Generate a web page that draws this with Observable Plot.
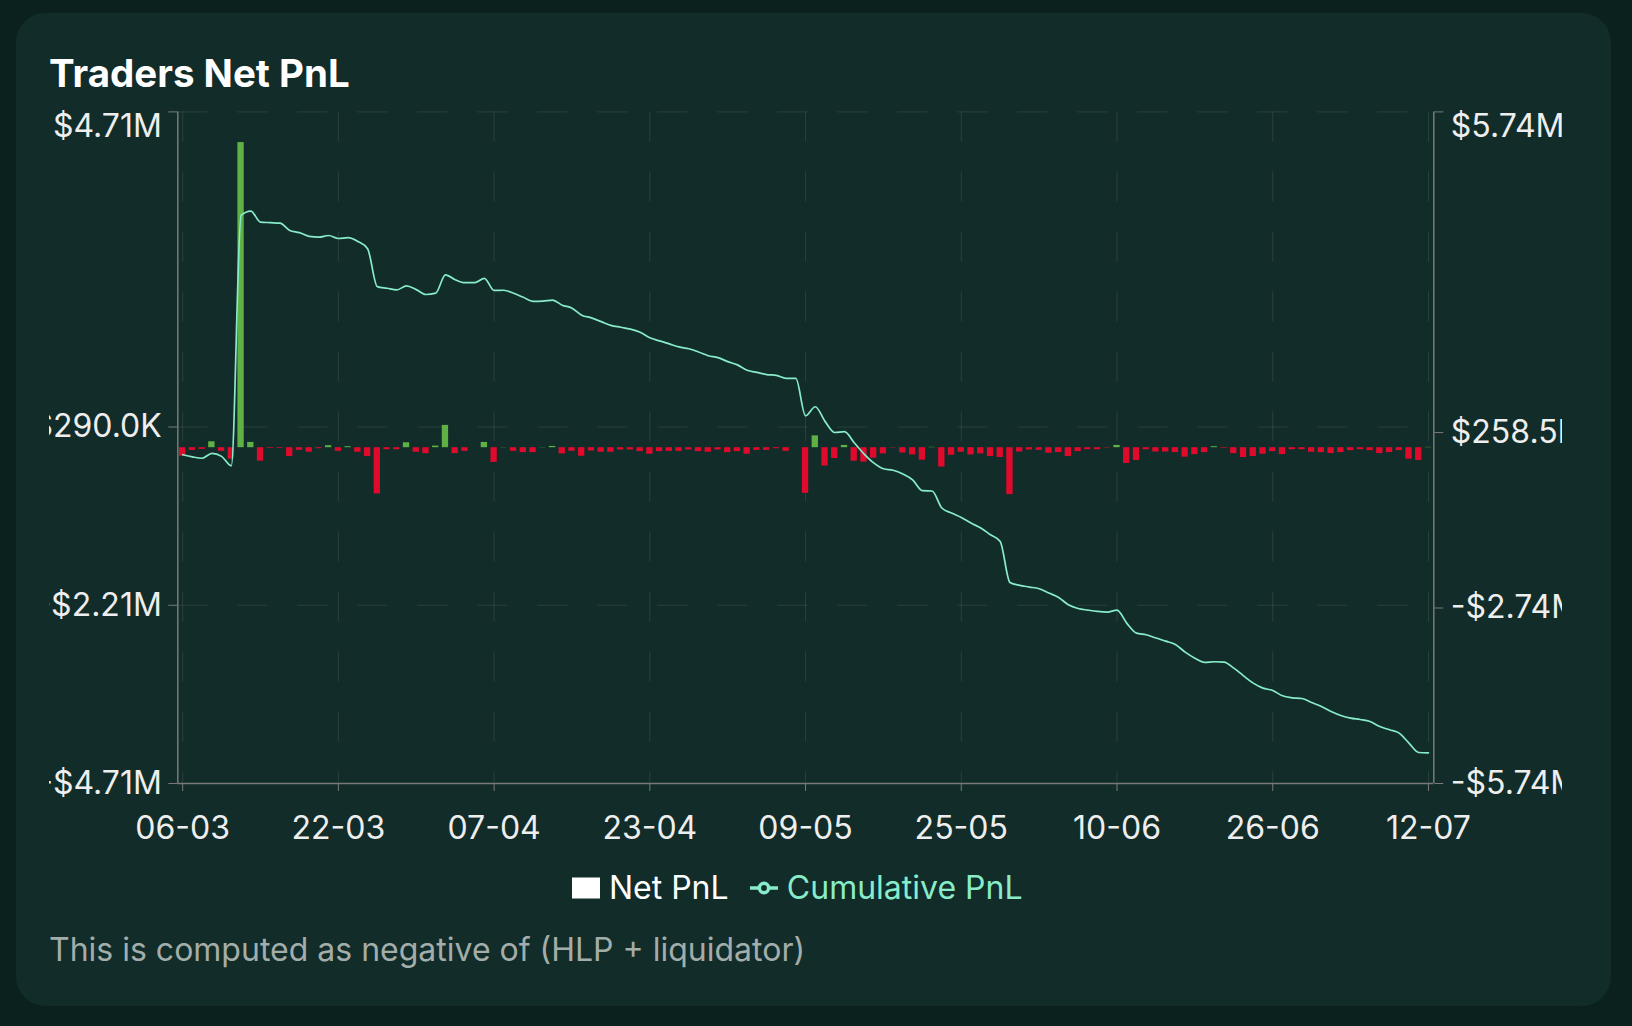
<!DOCTYPE html>
<html>
<head>
<meta charset="utf-8">
<script src="https://cdn.jsdelivr.net/npm/d3@7"></script>
<script src="https://cdn.jsdelivr.net/npm/@observablehq/plot@0.6"></script>
<style>
  html, body { margin: 0; padding: 0; width: 1632px; height: 1026px; overflow: hidden; background: #0a211e; font-family: Inter, "Noto Sans", sans-serif; }
  #card { position: absolute; left: 15.6px; top: 12.5px; width: 1595.5px; height: 993px; background: #112c29; border-radius: 29px; }
  #title { position: absolute; left: 49px; top: 54.2px; font-size: 38.5px; line-height: 1; font-weight: 700; color: #ffffff; white-space: nowrap; }
  #chart { position: absolute; left: 49px; top: 100px; width: 1513px; height: 760px; overflow: hidden; }
  #chart svg { display: block; max-width: none; }
  #chart svg g, #chart svg text { font-variant: normal !important; font-variant-numeric: normal !important; }
  #legend { position: absolute; left: 572.4px; top: 872px; height: 32px; display: flex; align-items: center; font-size: 32px; line-height: 1; white-space: nowrap; }
  #legend .item { display: flex; align-items: center; }
  #legend svg { display: block; }
  #caption { position: absolute; left: 49px; top: 934px; font-size: 32px; line-height: 1; color: #a3adaa; white-space: nowrap; }
</style>
</head>
<body>
<div id="card"></div>
<div id="title">Traders Net PnL</div>
<div id="chart"></div>
<div id="legend"></div>
<div id="caption">This is computed as negative of (HLP + liquidator)</div>
<script>
// ---------- data (values in thousands of USD, one per day from startDate) ----------
const startDate = "2024-03-06";
const netPnlK = [
  -120, -37, -23, 83, -51, -161, 4280, 74, -189, -9,
  -9, -124, -37, -64, -14, 28, -51, 14, -64, -124,
  -649, -28, -28, 69, -64, -83, 23, 313, -83, -51,
  0, 74, -207, 3, -51, -69, -69, 3, 18, -87,
  -51, -120, -46, -64, -64, -32, -32, -55, -92, -55,
  -51, -51, -32, -55, -64, -32, -69, -55, -92, -37,
  -37, -14, -51, 0, -640, 166, -258, -152, 32, -189,
  -202, -147, -87, -5, -74, -101, -175, 5, -271, -106,
  -64, -101, -87, -124, -138, -658, -60, -32, -37, -78,
  -69, -124, -55, -28, -28, -6, 32, -221, -179, -28,
  -60, -60, -69, -133, -97, -69, 14, -9, -83, -138,
  -124, -92, -55, -97, -28, -28, -64, -69, -83, -69,
  -41, -28, -41, -83, -69, -41, -161, -179, 5
];
const cumulativePnlK = [
  -120, -157, -180, -97, -148, -309, 3971, 4045, 3856, 3847,
  3838, 3714, 3677, 3613, 3599, 3627, 3576, 3590, 3526, 3402,
  2753, 2725, 2697, 2766, 2702, 2619, 2642, 2955, 2872, 2821,
  2821, 2895, 2688, 2691, 2640, 2571, 2502, 2505, 2523, 2436,
  2385, 2265, 2219, 2155, 2091, 2059, 2027, 1972, 1880, 1825,
  1774, 1723, 1691, 1636, 1572, 1540, 1471, 1416, 1324, 1287,
  1250, 1236, 1185, 1185, 545, 700, 450, 260, 275, 85,
  -105, -260, -360, -385, -450, -550, -735, -740, -1031, -1117,
  -1192, -1288, -1373, -1488, -1602, -2303, -2354, -2382, -2411, -2485,
  -2559, -2685, -2748, -2776, -2799, -2810, -2776, -2998, -3169, -3198,
  -3254, -3306, -3363, -3494, -3597, -3671, -3659, -3665, -3767, -3899,
  -4024, -4110, -4150, -4241, -4275, -4287, -4355, -4424, -4509, -4578,
  -4623, -4646, -4680, -4766, -4822, -4879, -5050, -5210, -5216
];
const xTickLabels = ["06-03", "22-03", "07-04", "23-04", "09-05", "25-05", "10-06", "26-06", "12-07"];
const leftTickValues = [4.71e6, 290.0e3, -2.21e6, -4.71e6];
const leftTickLabels = ["$4.71M", "$290.0K", "-$2.21M", "-$4.71M"];
const rightTickValues = [5.74e6, 258.5e3, -2.74e6, -5.74e6];
const rightTickLabels = ["$5.74M", "$258.5K", "-$2.74M", "-$5.74M"];
const leftDomain = [-4.71e6, 4.71e6];
const rightDomain = [-5.74e6, 5.74e6];
const seriesNames = ["Net PnL", "Cumulative PnL"];

// ---------- styling ----------
const green = "#5fb045", red = "#e00a2d", mint = "#88ecca";
const axisColor = "#7a7a7a", labelColor = "#eeeeee", gridColor = "#ffffff";
const DAY = 864e5;

// ---------- build ----------
const start = d3.utcParse("%Y-%m-%d")(startDate);
const dates = netPnlK.map((_, i) => d3.utcDay.offset(start, i));
const data = dates.map((date, i) => ({date, net: netPnlK[i] * 1e3, cum: cumulativePnlK[i] * 1e3}));
const toLeft = d3.scaleLinear().domain(rightDomain).range(leftDomain);
const xDomain = [new Date(+dates[0] - 0.5 * DAY), new Date(+dates[dates.length - 1] + 0.55 * DAY)];
const xTicks = xTickLabels.map(s => d3.utcParse("%d-%m-%Y")(s + "-2024"));
const xLabelMap = new Map(xTicks.map((d, i) => [+d, xTickLabels[i]]));
const leftLabelMap = new Map(leftTickValues.map((v, i) => [v, leftTickLabels[i]]));
const rightPos = rightTickValues.map(v => toLeft(v));
const rightLabelMap = new Map(rightPos.map((v, i) => [v, rightTickLabels[i]]));
const halfBar = 0.325 * DAY;

const chart = Plot.plot({
  width: 1513,
  height: 760,
  marginLeft: 128.3,
  marginRight: 128.7,
  marginTop: 11.4,
  marginBottom: 77,
  style: {background: "transparent", fontFamily: "Inter, sans-serif", fontSize: "32px", color: labelColor, overflow: "visible"},
  x: {type: "utc", domain: xDomain, axis: null},
  y: {domain: leftDomain, axis: null},
  marks: [
    Plot.gridX(xTicks, {stroke: gridColor, strokeOpacity: 0.1, strokeWidth: 1, strokeDasharray: "30,30"}),
    Plot.gridY(leftTickValues, {stroke: gridColor, strokeOpacity: 0.1, strokeWidth: 1, strokeDasharray: "30,30"}),
    Plot.rect(data, {
      x1: d => new Date(+d.date - halfBar),
      x2: d => new Date(+d.date + halfBar),
      y1: 0,
      y2: "net",
      fill: d => d.net >= 0 ? green : red
    }),
    Plot.line(data, {x: "date", y: d => toLeft(d.cum), stroke: mint, strokeWidth: 1.7, curve: "monotone-x"}),
    Plot.ruleX([xDomain[0]], {stroke: axisColor, strokeWidth: 1.5}),
    Plot.ruleX([xDomain[1]], {stroke: axisColor, strokeWidth: 1.5}),
    Plot.ruleY([leftDomain[0]], {stroke: axisColor, strokeWidth: 1.5}),
    Plot.axisX(xTicks, {tickSize: 8, tickPadding: 25, stroke: axisColor, fill: labelColor, tickFormat: d => xLabelMap.get(+d), label: null}),
    Plot.axisY(leftTickValues, {anchor: "left", tickSize: 9, stroke: axisColor, fill: "none", label: null}),
    Plot.axisY(leftTickValues.slice(1), {anchor: "left", tickSize: 0, tickPadding: 16, fill: labelColor, tickFormat: d => leftLabelMap.get(d), label: null}),
    Plot.axisY(leftTickValues.slice(0, 1), {anchor: "left", tickSize: 0, tickPadding: 16, dy: 14.6, fill: labelColor, tickFormat: d => leftLabelMap.get(d), label: null}),
    Plot.axisY(rightPos, {anchor: "right", tickSize: 9, stroke: axisColor, fill: "none", label: null}),
    Plot.axisY(rightPos.slice(1), {anchor: "right", tickSize: 0, tickPadding: 17, fill: labelColor, tickFormat: d => rightLabelMap.get(d), label: null}),
    Plot.axisY(rightPos.slice(0, 1), {anchor: "right", tickSize: 0, tickPadding: 17, dy: 14.6, fill: labelColor, tickFormat: d => rightLabelMap.get(d), label: null})
  ]
});
document.getElementById("chart").appendChild(chart);

// ---------- legend ----------
const legend = document.getElementById("legend");
legend.innerHTML =
  `<span class="item"><svg width="28" height="28" viewBox="0 0 28 28"><rect x="0" y="3.5" width="28" height="21" fill="#ffffff"/></svg>` +
  `<span style="color:#ffffff;margin-left:8.5px">${seriesNames[0]}</span></span>` +
  `<span class="item" style="margin-left:21.8px"><svg width="28" height="28" viewBox="0 0 32 32"><path stroke-width="4" fill="none" stroke="${mint}" d="M0,16h10.667A5.333,5.333,0,1,1,21.333,16H32M21.333,16A5.333,5.333,0,1,1,10.667,16"/></svg>` +
  `<span style="color:${mint};margin-left:8.5px">${seriesNames[1]}</span></span>`;
</script>
</body>
</html>
